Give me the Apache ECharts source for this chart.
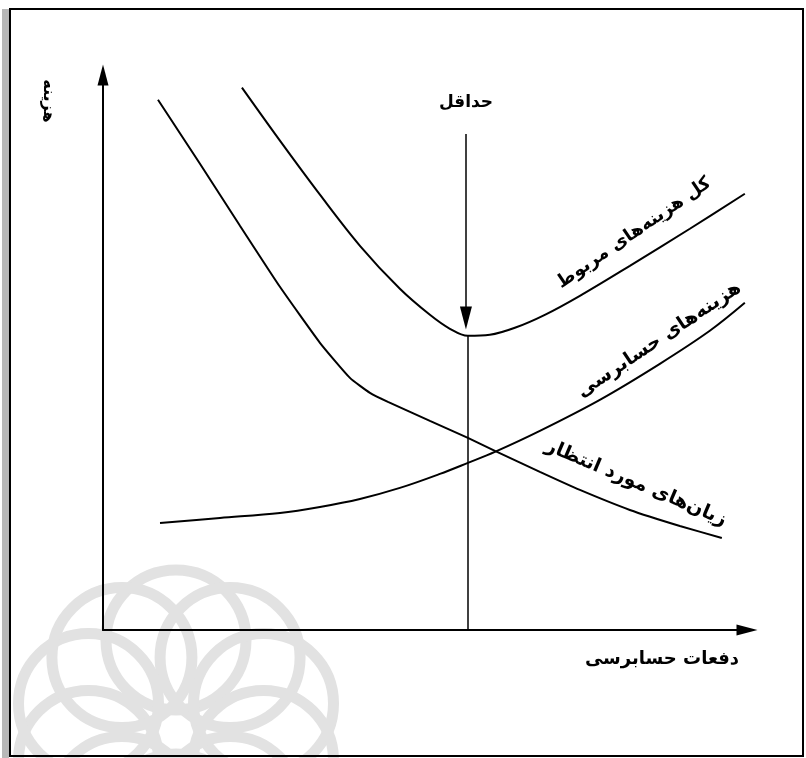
<!DOCTYPE html>
<html><head><meta charset="utf-8">
<script src="https://cdn.jsdelivr.net/npm/echarts@6/dist/echarts.min.js"></script>
<style>html,body{margin:0;padding:0;background:#fff}#c{width:806px;height:758px}</style>
</head><body><div id="c"></div>
<script>
// Total relevant costs (کل هزینه‌های مربوط)
const totalX = [21.25, 27.06, 33.18, 39.30, 45.41, 50.00, 53.06, 55.81, 59.17, 63.00, 67.58, 72.94, 80.58, 89.76, 98.17];
const totalY = [95.76, 86.40, 76.86, 67.84, 60.25, 55.65, 53.18, 51.94, 52.12, 53.36, 55.65, 59.01, 64.31, 70.85, 77.03];
// Audit costs (هزینه‌های حسابرسی)
const auditX = [8.72, 17.89, 27.06, 33.18, 39.30, 45.41, 51.53, 55.81, 59.94, 66.82, 75.99, 85.17, 92.81, 98.17];
const auditY = [18.90, 19.79, 20.67, 21.73, 23.14, 25.09, 27.56, 29.51, 31.45, 35.16, 40.64, 47.00, 52.83, 57.77];
// Expected losses (زیان‌های مورد انتظار)
const lossX = [8.41, 14.83, 20.95, 27.06, 33.18, 37.77, 40.83, 43.58, 50.00, 55.81, 59.94, 66.82, 72.94, 80.58, 88.23, 94.65];
const lossY = [93.64, 82.33, 71.38, 60.60, 50.71, 44.52, 41.87, 40.28, 36.93, 33.92, 31.63, 27.92, 24.73, 21.20, 18.37, 16.25];
// Minimum marker (arrow from label down to the minimum)
const minArrowTop = 87.6;
const minArrowTip = 55.1;

const labels = {
  xName: 'دفعات حسابرسی',
  yName: 'هزینه',
  minimum: 'حداقل',
  total: 'کل هزینه‌های مربوط',
  audit: 'هزینه‌های حسابرسی',
  loss: 'زیان‌های مورد انتظار'
};

const zip = (xs, ys) => xs.map((x, i) => [x, ys[i]]);
const minIdx = totalY.indexOf(Math.min(...totalY));
const xMin = totalX[minIdx];
const yMinVal = totalY[minIdx];

const FONT = '"DejaVu Sans", sans-serif';
const lineCommon = { type: 'line', showSymbol: false, silent: true,
  lineStyle: { color: '#000', width: 2 }, z: 5 };

// watermark rosette (decorative, from the scanned page)
const wm = [];
const cx = 176, cy = 732;
for (let i = 0; i < 10; i++) {
  const a = i / 10 * Math.PI * 2 - Math.PI / 2;
  wm.push({ type: 'circle', silent: true, z: 0,
    shape: { cx: cx + 92 * Math.cos(a), cy: cy + 92 * Math.sin(a), r: 70 },
    style: { fill: 'none', stroke: '#e2e2e2', lineWidth: 11 } });
}

const chart = echarts.init(document.getElementById('c'), null, { renderer: 'canvas' });
chart.setOption({
  backgroundColor: '#fff',
  animation: false,
  grid: { left: 103, right: 59, top: 75, bottom: 128 },
  xAxis: { type: 'value', min: 0, max: 98.5,
    axisLine: { show: true, onZero: false, symbol: ['none', 'triangle'], symbolSize: [11, 21],
      lineStyle: { color: '#000', width: 2 } },
    axisTick: { show: false }, axisLabel: { show: false }, splitLine: { show: false } },
  yAxis: { type: 'value', min: 0, max: 98,
    axisLine: { show: true, onZero: false, symbol: ['none', 'triangle'], symbolSize: [11, 21],
      lineStyle: { color: '#000', width: 2 } },
    axisTick: { show: false }, axisLabel: { show: false }, splitLine: { show: false } },
  series: [
    Object.assign({}, lineCommon, { name: labels.total, data: zip(totalX, totalY), smooth: 0.35,
      markLine: { silent: true, symbol: ['none', 'none'], label: { show: false },
        lineStyle: { color: '#000', width: 1.5, type: 'solid' },
        data: [
          [{ coord: [xMin, yMinVal] }, { coord: [xMin, 0] }],
          [{ coord: [xMin - 0.3, minArrowTop], symbol: 'none' },
           { coord: [xMin - 0.3, minArrowTip], symbol: 'triangle', symbolSize: [12, 23] }]
        ] } }),
    Object.assign({}, lineCommon, { name: labels.audit, data: zip(auditX, auditY), smooth: 0.35 }),
    Object.assign({}, lineCommon, { name: labels.loss, data: zip(lossX, lossY), smooth: 0.15 })
  ],
  graphic: [
    { type: 'rect', silent: true, z: 1, shape: { x: 10, y: 9, width: 793, height: 747 },
      style: { fill: 'none', stroke: '#000', lineWidth: 2 } },
    { type: 'rect', silent: true, z: 1, shape: { x: 2, y: 9, width: 7, height: 749 },
      style: { fill: '#b8b8b8' } },
    ...wm,
    { type: 'text', silent: true, z: 10, x: 466, y: 103,
      style: { text: labels.minimum, font: 'bold 17px ' + FONT, fill: '#000', textAlign: 'center', textVerticalAlign: 'middle' } },
    { type: 'text', silent: true, z: 10, x: 634, y: 233, rotation: 0.60,
      style: { text: labels.total, font: 'bold 18px ' + FONT, fill: '#000', textAlign: 'center', textVerticalAlign: 'middle' } },
    { type: 'text', silent: true, z: 10, x: 659, y: 340, rotation: 0.59,
      style: { text: labels.audit, font: 'bold 19px ' + FONT, fill: '#000', textAlign: 'center', textVerticalAlign: 'middle' } },
    { type: 'text', silent: true, z: 10, x: 636, y: 483, rotation: -0.40,
      style: { text: labels.loss, font: 'bold 19px ' + FONT, fill: '#000', textAlign: 'center', textVerticalAlign: 'middle' } },
    { type: 'text', silent: true, z: 10, x: 662, y: 659,
      style: { text: labels.xName, font: 'bold 18px ' + FONT, fill: '#000', textAlign: 'center', textVerticalAlign: 'middle' } },
    { type: 'text', silent: true, z: 10, x: 48, y: 101, rotation: -Math.PI / 2,
      style: { text: labels.yName, font: 'bold 16px ' + FONT, fill: '#000', textAlign: 'center', textVerticalAlign: 'middle' } }
  ]
});
</script></body></html>
